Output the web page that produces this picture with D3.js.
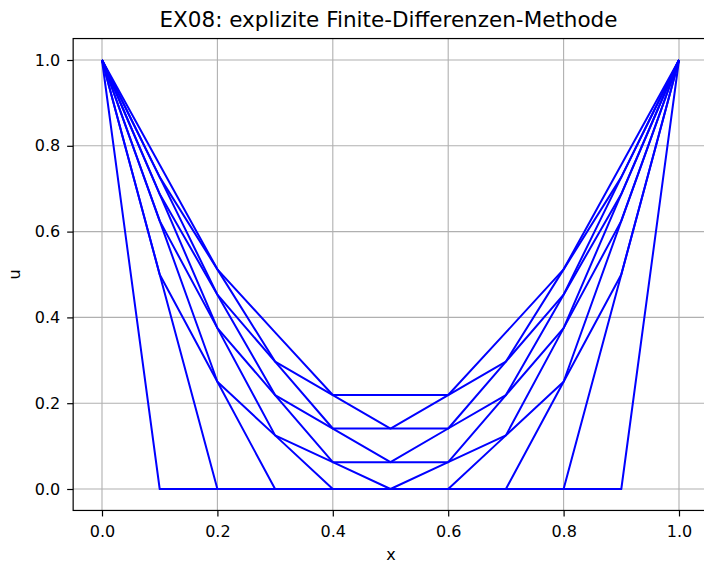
<!DOCTYPE html>
<html>
<head>
<meta charset="utf-8">
<script src="https://cdn.jsdelivr.net/npm/d3@7"></script>
<style>
  body { margin: 0; background: #fff; }
  text { font-family: "DejaVu Sans", sans-serif; fill: #000; }
</style>
</head>
<body>
<div id="chart"></div>
<script>
// grid points
const xs = [0, 0.1, 0.2, 0.3, 0.4, 0.5, 0.6, 0.7, 0.8, 0.9, 1.0];

// u at each time step
const u0 = [1, 0, 0, 0, 0, 0, 0, 0, 0, 0, 1];
const u1 = [1, 0.5, 0, 0, 0, 0, 0, 0, 0, 0.5, 1];
const u2 = [1, 0.5, 0.25, 0, 0, 0, 0, 0, 0.25, 0.5, 1];
const u3 = [1, 0.625, 0.25, 0.125, 0, 0, 0, 0.125, 0.25, 0.625, 1];
const u4 = [1, 0.625, 0.375, 0.125, 0.0625, 0, 0.0625, 0.125, 0.375, 0.625, 1];
const u5 = [1, 0.6875, 0.375, 0.219, 0.0625, 0.0625, 0.0625, 0.219, 0.375, 0.6875, 1];
const u6 = [1, 0.6875, 0.453, 0.219, 0.141, 0.0625, 0.141, 0.219, 0.453, 0.6875, 1];
const u7 = [1, 0.727, 0.453, 0.297, 0.141, 0.141, 0.141, 0.297, 0.453, 0.727, 1];
const u8 = [1, 0.727, 0.512, 0.297, 0.219, 0.141, 0.219, 0.297, 0.512, 0.727, 1];
const u9 = [1, 0.756, 0.512, 0.365, 0.219, 0.219, 0.219, 0.365, 0.512, 0.756, 1];
const steps = [u0, u1, u2, u3, u4, u5, u6, u7, u8, u9];

const xTicks = [0, 0.2, 0.4, 0.6, 0.8, 1.0];
const yTicks = [0, 0.2, 0.4, 0.6, 0.8, 1.0];

const width = 704, height = 562;

const x = d3.scaleLinear().domain([0, 1]).range([102, 679]);
const y = d3.scaleLinear().domain([0, 1]).range([489, 60]);

// axes limits with 5% margin, like matplotlib
const x0 = x(-0.05), x1 = x(1.05);
const yTop = y(1.05), yBot = y(-0.05);

const svg = d3.select("#chart").append("svg")
    .attr("width", width)
    .attr("height", height);

// grid
svg.append("g")
    .selectAll("line")
    .data(xTicks)
    .enter().append("line")
    .attr("x1", d => x(d)).attr("x2", d => x(d))
    .attr("y1", yTop).attr("y2", yBot)
    .attr("stroke", "#b0b0b0").attr("stroke-width", 1.1);

svg.append("g")
    .selectAll("line")
    .data(yTicks)
    .enter().append("line")
    .attr("x1", x0).attr("x2", x1)
    .attr("y1", d => y(d)).attr("y2", d => y(d))
    .attr("stroke", "#b0b0b0").attr("stroke-width", 1.1);

// curves
const line = d3.line()
    .x((d, i) => x(xs[i]))
    .y(d => y(d));

svg.append("g")
    .selectAll("path")
    .data(steps)
    .enter().append("path")
    .attr("d", line)
    .attr("fill", "none")
    .attr("stroke", "#0000ff")
    .attr("stroke-width", 2)
    .attr("stroke-linejoin", "round");

// frame
svg.append("rect")
    .attr("x", x0).attr("y", yTop)
    .attr("width", x1 - x0).attr("height", yBot - yTop)
    .attr("fill", "none").attr("stroke", "#000").attr("stroke-width", 1.2);

// x axis
const xAxis = d3.axisBottom(x)
    .tickValues(xTicks)
    .tickFormat(d3.format(".1f"))
    .tickSize(6)
    .tickPadding(9);

svg.append("g")
    .attr("transform", "translate(0," + yBot + ")")
    .call(xAxis)
    .call(g => g.select(".domain").remove())
    .call(g => g.selectAll("text").style("font-family", "DejaVu Sans").style("font-size", "16px").attr("fill", "#000"))
    .call(g => g.selectAll("line").attr("stroke-width", 1.2));

// y axis
const yAxis = d3.axisLeft(y)
    .tickValues(yTicks)
    .tickFormat(d3.format(".1f"))
    .tickSize(6)
    .tickPadding(7);

svg.append("g")
    .attr("transform", "translate(" + x0 + ",0)")
    .call(yAxis)
    .call(g => g.select(".domain").remove())
    .call(g => g.selectAll("text").style("font-family", "DejaVu Sans").style("font-size", "16px").attr("fill", "#000"))
    .call(g => g.selectAll("line").attr("stroke-width", 1.2));

// labels
svg.append("text")
    .attr("x", (x0 + x1) / 2 - 2)
    .attr("y", 27)
    .style("text-anchor", "middle")
    .style("font-size", "21.5px")
    .text("EX08: explizite Finite-Differenzen-Methode");

svg.append("text")
    .attr("x", 391)
    .attr("y", 559.5)
    .style("text-anchor", "middle")
    .style("font-size", "16px")
    .text("x");

svg.append("text")
    .attr("transform", "translate(19.5," + y(0.5) + ") rotate(-90)")
    .style("text-anchor", "middle")
    .style("font-size", "16px")
    .text("u");
</script>
</body>
</html>
